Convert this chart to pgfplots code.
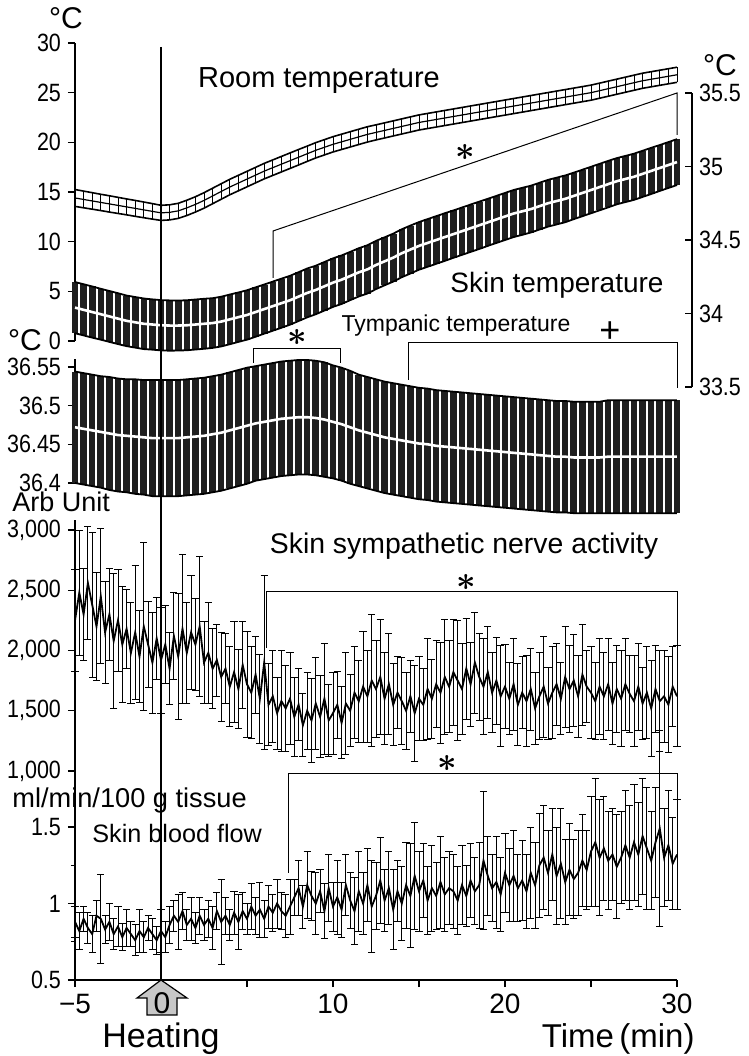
\documentclass[border=0pt]{standalone}
\usepackage{amsmath}
\usepackage{fontspec}
\setmainfont{Liberation Sans}
\newfontfamily\tickfont{Liberation Sans}[FakeStretch=0.86]
\usepackage{graphicx}
\usepackage{pgfplots}
\usepackage{pgfplotstable}
\pgfplotsset{compat=1.18}

% Room temperature (left axis), mean and SE, every 30 s
\pgfplotstableread{
t m e
-5 14.40 0.85
-4.5 14.25 0.84
-4 14.10 0.83
-3.5 13.95 0.82
-3 13.80 0.82
-2.5 13.65 0.81
-2 13.50 0.80
-1.5 13.35 0.80
-1 13.20 0.79
-0.5 13.05 0.78
0 12.90 0.76
0.5 12.95 0.76
1 13.10 0.76
1.5 13.40 0.77
2 13.75 0.77
2.5 14.15 0.78
3 14.60 0.78
3.5 15.05 0.78
4 15.50 0.78
4.5 15.90 0.78
5 16.30 0.78
5.5 16.70 0.78
6 17.10 0.78
6.5 17.45 0.78
7 17.80 0.78
7.5 18.15 0.78
8 18.50 0.78
8.5 18.85 0.77
9 19.20 0.77
9.5 19.50 0.77
10 19.80 0.77
10.5 20.05 0.77
11 20.30 0.77
11.5 20.55 0.77
12 20.80 0.77
12.5 21.00 0.76
13 21.20 0.76
13.5 21.40 0.76
14 21.60 0.76
14.5 21.80 0.76
15 22.00 0.76
15.5 22.15 0.76
16 22.30 0.76
16.5 22.45 0.76
17 22.60 0.76
17.5 22.75 0.76
18 22.90 0.76
18.5 23.05 0.76
19 23.20 0.76
19.5 23.35 0.76
20 23.50 0.76
20.5 23.65 0.76
21 23.80 0.76
21.5 23.95 0.76
22 24.10 0.76
22.5 24.25 0.76
23 24.40 0.76
23.5 24.55 0.76
24 24.70 0.76
24.5 24.85 0.76
25 25.00 0.76
25.5 25.20 0.76
26 25.40 0.76
26.5 25.60 0.76
27 25.80 0.76
27.5 26.00 0.76
28 26.20 0.76
28.5 26.35 0.76
29 26.50 0.76
29.5 26.65 0.76
30 26.80 0.76
}\roomtab

% Skin temperature (right axis)
\pgfplotstableread{
t m e
-5 34.040 0.174
-4.5 34.025 0.174
-4 34.010 0.174
-3.5 33.995 0.173
-3 33.980 0.173
-2.5 33.965 0.173
-2 33.950 0.172
-1.5 33.940 0.172
-1 33.930 0.172
-0.5 33.925 0.171
0 33.920 0.171
0.5 33.918 0.171
1 33.918 0.170
1.5 33.920 0.170
2 33.925 0.170
2.5 33.930 0.170
3 33.935 0.169
3.5 33.945 0.169
4 33.960 0.169
4.5 33.975 0.168
5 33.990 0.168
5.5 34.010 0.168
6 34.030 0.167
6.5 34.050 0.167
7 34.070 0.167
7.5 34.090 0.166
8 34.115 0.166
8.5 34.140 0.166
9 34.160 0.165
9.5 34.185 0.165
10 34.210 0.165
10.5 34.230 0.165
11 34.255 0.164
11.5 34.280 0.164
12 34.300 0.164
12.5 34.330 0.164
13 34.355 0.163
13.5 34.380 0.163
14 34.410 0.163
14.5 34.435 0.163
15 34.460 0.162
15.5 34.480 0.162
16 34.500 0.162
16.5 34.520 0.162
17 34.540 0.161
17.5 34.560 0.161
18 34.580 0.161
18.5 34.600 0.161
19 34.620 0.160
19.5 34.640 0.160
20 34.660 0.160
20.5 34.680 0.160
21 34.695 0.160
21.5 34.710 0.159
22 34.730 0.159
22.5 34.750 0.159
23 34.765 0.159
23.5 34.780 0.159
24 34.800 0.158
24.5 34.820 0.158
25 34.840 0.158
25.5 34.860 0.158
26 34.880 0.158
26.5 34.900 0.157
27 34.915 0.157
27.5 34.930 0.157
28 34.950 0.157
28.5 34.970 0.157
29 34.990 0.156
29.5 35.010 0.156
30 35.030 0.156
}\skintab

% Tympanic temperature
\pgfplotstableread{
t m e
-5 36.472 0.072
-4.5 36.470 0.072
-4 36.468 0.072
-3.5 36.466 0.072
-3 36.464 0.073
-2.5 36.462 0.073
-2 36.461 0.073
-1.5 36.460 0.074
-1 36.459 0.074
-0.5 36.458 0.075
0 36.458 0.075
0.5 36.458 0.075
1 36.458 0.075
1.5 36.459 0.075
2 36.460 0.075
2.5 36.461 0.075
3 36.463 0.075
3.5 36.465 0.075
4 36.468 0.075
4.5 36.471 0.075
5 36.474 0.075
5.5 36.477 0.074
6 36.479 0.074
6.5 36.481 0.074
7 36.483 0.074
7.5 36.484 0.074
8 36.485 0.074
8.5 36.485 0.074
9 36.484 0.074
9.5 36.482 0.074
10 36.479 0.073
10.5 36.476 0.073
11 36.472 0.073
11.5 36.468 0.072
12 36.465 0.072
12.5 36.462 0.072
13 36.459 0.072
13.5 36.457 0.072
14 36.455 0.072
14.5 36.453 0.072
15 36.451 0.072
15.5 36.450 0.072
16 36.448 0.072
16.5 36.447 0.072
17 36.446 0.072
17.5 36.445 0.072
18 36.444 0.072
18.5 36.443 0.072
19 36.442 0.072
19.5 36.441 0.072
20 36.440 0.072
20.5 36.439 0.072
21 36.438 0.072
21.5 36.437 0.072
22 36.436 0.072
22.5 36.435 0.072
23 36.434 0.072
23.5 36.434 0.072
24 36.433 0.072
24.5 36.433 0.072
25 36.433 0.072
25.5 36.433 0.072
26 36.434 0.073
26.5 36.434 0.073
27 36.434 0.073
27.5 36.434 0.073
28 36.434 0.073
28.5 36.434 0.073
29 36.434 0.073
29.5 36.434 0.073
30 36.434 0.073
}\tymtab

% Skin sympathetic nerve activity, every 15 s
\pgfplotstableread{
t m e
-5.00 2250 420
-4.75 2480 520
-4.50 2300 380
-4.25 2560 470
-4.00 2380 600
-3.75 2200 450
-3.50 2450 560
-3.25 2150 420
-3.00 2300 380
-2.75 2080 560
-2.50 2250 420
-2.25 2050 480
-2.00 2180 330
-1.75 1980 420
-1.50 2150 560
-1.25 1950 380
-1.00 2200 700
-0.75 2050 360
-0.50 1900 420
-0.25 2100 340
0.00 1920 440
0.25 2050 320
0.50 1850 300
0.75 2120 360
1.00 1950 520
1.25 2180 620
1.50 1980 420
1.75 2150 470
2.00 2050 380
2.25 2200 580
2.50 1900 340
2.75 1980 420
3.00 1850 330
3.25 1920 300
3.50 1780 370
3.75 1850 290
4.00 1700 330
4.25 1820 420
4.50 1680 330
4.75 1880 360
5.00 1720 440
5.25 1650 380
5.50 1800 320
5.75 1600 370
6.00 1900 720
6.25 1550 340
6.50 1620 380
6.75 1480 300
7.00 1580 420
7.25 1520 360
7.50 1600 380
7.75 1450 330
8.00 1550 300
8.25 1380 260
8.50 1500 320
8.75 1420 350
9.00 1560 380
9.25 1450 340
9.50 1600 460
9.75 1420 300
10.00 1480 340
10.25 1550 280
10.50 1400 300
10.75 1560 420
11.00 1500 300
11.25 1650 380
11.50 1580 340
11.75 1700 460
12.00 1620 380
12.25 1750 550
12.50 1680 400
12.75 1780 480
13.00 1600 380
13.25 1720 420
13.50 1550 340
13.75 1650 300
14.00 1580 360
14.25 1500 320
14.50 1620 300
14.75 1480 400
15.00 1600 350
15.25 1550 300
15.50 1680 420
15.75 1600 330
16.00 1720 360
16.25 1650 420
16.50 1780 480
16.75 1700 380
17.00 1820 440
17.25 1750 500
17.50 1680 380
17.75 1850 420
18.00 1720 350
18.25 1900 420
18.50 1780 360
18.75 1700 400
19.00 1820 380
19.25 1650 330
19.50 1750 360
19.75 1620 420
20.00 1700 350
20.25 1600 300
20.50 1720 380
20.75 1550 340
21.00 1650 300
21.25 1580 380
21.50 1680 340
21.75 1520 300
22.00 1620 360
22.25 1700 420
22.50 1560 300
22.75 1650 380
23.00 1720 340
23.25 1600 300
23.50 1780 420
23.75 1680 360
24.00 1750 380
24.25 1620 340
24.50 1800 420
24.75 1700 300
25.00 1650 380
25.25 1580 320
25.50 1700 400
25.75 1620 360
26.00 1720 380
26.25 1560 340
26.50 1680 360
26.75 1600 400
27.00 1720 380
27.25 1640 320
27.50 1580 380
27.75 1700 360
28.00 1560 300
28.25 1650 380
28.50 1520 400
28.75 1680 360
29.00 1580 420
29.25 1620 380
29.50 1550 400
29.75 1700 330
30.00 1620 420
}\ssnatab

% Skin blood flow, every 15 s
\pgfplotstableread{
t m e
-5.00 0.88 0.10
-4.75 0.82 0.12
-4.50 0.90 0.08
-4.25 0.84 0.10
-4.00 0.80 0.12
-3.75 0.92 0.10
-3.50 0.90 0.29
-3.25 0.83 0.09
-3.00 0.88 0.12
-2.75 0.80 0.10
-2.50 0.85 0.13
-2.25 0.78 0.09
-2.00 0.84 0.12
-1.75 0.80 0.08
-1.50 0.76 0.10
-1.25 0.82 0.14
-1.00 0.78 0.10
-0.75 0.84 0.08
-0.50 0.80 0.10
-0.25 0.76 0.09
0.00 0.82 0.14
0.25 0.78 0.10
0.50 0.86 0.12
0.75 0.92 0.10
1.00 0.88 0.18
1.25 0.95 0.12
1.50 0.86 0.10
1.75 0.90 0.14
2.00 0.84 0.10
2.25 0.92 0.12
2.50 0.86 0.10
2.75 0.90 0.12
3.00 0.84 0.14
3.25 0.95 0.12
3.50 0.88 0.28
3.75 0.92 0.12
4.00 0.86 0.10
4.25 0.94 0.14
4.50 0.88 0.18
4.75 0.95 0.12
5.00 0.90 0.10
5.25 0.98 0.15
5.50 0.92 0.12
5.75 0.96 0.18
6.00 0.90 0.12
6.25 0.98 0.14
6.50 0.94 0.12
6.75 1.00 0.16
7.00 0.95 0.12
7.25 0.92 0.14
7.50 0.98 0.18
7.75 1.04 0.12
8.00 1.10 0.18
8.25 0.98 0.14
8.50 1.12 0.22
8.75 1.05 0.16
9.00 1.00 0.20
9.25 1.08 0.14
9.50 0.95 0.18
9.75 1.10 0.22
10.00 0.98 0.16
10.25 1.04 0.24
10.50 0.96 0.18
10.75 1.12 0.20
11.00 1.02 0.18
11.25 0.95 0.22
11.50 1.08 0.26
11.75 1.00 0.20
12.00 1.12 0.24
12.25 0.98 0.30
12.50 1.05 0.22
12.75 1.15 0.28
13.00 1.02 0.20
13.25 1.10 0.24
13.50 0.96 0.26
13.75 1.08 0.20
14.00 1.00 0.24
14.25 1.12 0.28
14.50 1.05 0.34
14.75 1.18 0.35
15.00 1.08 0.26
15.25 1.15 0.24
15.50 1.02 0.22
15.75 1.10 0.28
16.00 1.05 0.22
16.25 1.14 0.30
16.50 1.06 0.24
16.75 1.10 0.24
17.00 1.08 0.24
17.25 1.02 0.22
17.50 1.12 0.26
17.75 1.05 0.20
18.00 1.15 0.24
18.25 1.08 0.22
18.50 1.12 0.28
18.75 1.28 0.45
19.00 1.18 0.26
19.25 1.10 0.22
19.50 1.14 0.30
19.75 1.06 0.24
20.00 1.20 0.26
20.25 1.12 0.24
20.50 1.18 0.30
20.75 1.10 0.22
21.00 1.15 0.26
21.25 1.08 0.24
21.50 1.20 0.30
21.75 1.12 0.28
22.00 1.25 0.34
22.25 1.30 0.34
22.50 1.20 0.28
22.75 1.32 0.30
23.00 1.18 0.32
23.25 1.26 0.36
23.50 1.14 0.28
23.75 1.22 0.30
24.00 1.16 0.26
24.25 1.20 0.28
24.50 1.28 0.30
24.75 1.22 0.26
25.00 1.34 0.36
25.25 1.40 0.42
25.50 1.30 0.38
25.75 1.36 0.34
26.00 1.28 0.32
26.25 1.32 0.30
26.50 1.24 0.34
26.75 1.30 0.30
27.00 1.38 0.36
27.25 1.30 0.34
27.50 1.40 0.38
27.75 1.32 0.34
28.00 1.44 0.38
28.25 1.36 0.40
28.50 1.28 0.32
28.75 1.40 0.36
29.00 1.49 0.64
29.25 1.30 0.32
29.50 1.38 0.36
29.75 1.26 0.30
30.00 1.32 0.36
}\sbftab

\newcommand{\bigast}{\scalebox{1.7}{$\boldsymbol{\ast}$}}

\pgfplotsset{
  panel/.style={
    scale only axis, width=301pt, xmin=-5, xmax=30, clip=false,
    axis y line*=left, tick align=outside,
    major tick length=3.5pt, minor tick length=2pt,
    axis line style={line width=0.6pt, black},
    every tick/.style={line width=0.6pt, black},
    tick label style={font=\tickfont\fontsize{12.5}{12.5}\selectfont},
    /pgf/number format/assume math mode=true,
  },
  thickband/.style={draw=none, error bars/.cd, y dir=both, y explicit,
    error bar style={draw=black!88, line width=3.3pt}, error mark=none},
  capbars/.style={draw=none, error bars/.cd, y dir=both, y explicit,
    error bar style={draw=black, line width=0.45pt}, error mark=-,
    error mark options={draw=black, line width=0.45pt, mark size=1.8pt, rotate=90}},
}

\begin{document}
\begin{tikzpicture}
\useasboundingbox (0,0) rectangle (374.5pt,528pt);

% Room temperature
\begin{axis}[panel, axis x line=none, at={(37.5pt,357.5pt)}, anchor=south west, height=149pt,
  ymin=0, ymax=30, ytick={0,5,...,30}, yticklabels={0,5,10,15,20,25,30}]
\addplot[draw=none, error bars/.cd, y dir=both, y explicit,
  error bar style={draw=black, line width=0.3pt}, error mark=none]
  table[x=t, y=m, y error=e] {\roomtab};
\addplot[black, line width=0.8pt] table[x=t, y expr=\thisrow{m}+\thisrow{e}] {\roomtab};
\addplot[black, line width=0.8pt] table[x=t, y expr=\thisrow{m}-\thisrow{e}] {\roomtab};
\addplot[black, line width=0.6pt] table[x=t, y=m] {\roomtab};
\end{axis}

% Skin temperature, right-hand scale
\begin{axis}[panel, axis x line=none, at={(37.5pt,334.5pt)}, anchor=south west, width=308.5pt, xmax=30.872,
  height=147pt, ymin=33.5, ymax=35.5, axis y line*=right, tick align=inside,
  ytick={33.5,34,34.5,35,35.5}, yticklabels={33.5,34,34.5,35,35.5}]
\addplot[thickband] table[x=t, y=m, y error=e] {\skintab};
\addplot[black, line width=0.9pt] table[x=t, y expr=\thisrow{m}+\thisrow{e}] {\skintab};
\addplot[black, line width=0.9pt] table[x=t, y expr=\thisrow{m}-\thisrow{e}] {\skintab};
\addplot[white, line width=1.3pt] table[x=t, y=m] {\skintab};
\end{axis}

% Tympanic temperature
\begin{axis}[panel, axis x line=none, at={(37.5pt,286.5pt)}, anchor=south west, height=61.9pt,
  ymin=36.4, ymax=36.56, ytick={36.4,36.45,36.5,36.55},
  yticklabels={36.4,36.45,36.5,36.55}]
\addplot[thickband] table[x=t, y=m, y error=e] {\tymtab};
\addplot[black, line width=0.9pt] table[x=t, y expr=\thisrow{m}+\thisrow{e}] {\tymtab};
\addplot[black, line width=0.9pt] table[x=t, y expr=\thisrow{m}-\thisrow{e}] {\tymtab};
\addplot[white, line width=1.3pt] table[x=t, y=m] {\tymtab};
\end{axis}

% Skin sympathetic nerve activity
\begin{axis}[panel, axis x line=none, at={(37.5pt,142.5pt)}, anchor=south west, height=125.3pt,
  ymin=1000, ymax=3080, ytick={1000,1500,2000,2500,3000},
  yticklabels={{1,000},{1,500},{2,000},{2,500},{3,000}}]
\addplot[capbars] table[x=t, y=m, y error=e] {\ssnatab};
\addplot[black, line width=0.9pt] table[x=t, y=m] {\ssnatab};
\end{axis}

% Skin blood flow, with the time axis
\begin{axis}[panel, at={(37.5pt,38pt)}, anchor=south west, height=104.5pt,
  ymin=0.5, ymax=1.866, ytick={0.5,1,1.5}, yticklabels={0.5,1,1.5},
  minor ytick={0.75,1.25}, axis x line*=bottom,
  xtick={-5,0,5,10,15,20,25,30}, xticklabels={−5,,,10,,20,,30},
  xticklabel style={font=\fontsize{14}{14}\selectfont}]
\addplot[capbars] table[x=t, y=m, y error=e] {\sbftab};
\addplot[black, line width=0.9pt] table[x=t, y=m] {\sbftab};
\end{axis}

% Labels, brackets and the heating marker
\begin{scope}[x=0.5pt, y=-0.5pt, shift={(0pt,528pt)}]
\draw[line width=0.6pt] (161,47) -- (161,980);
\node[font=\fontsize{15}{15}\selectfont, inner sep=0pt] at (66,18) {°C};
\node[font=\fontsize{14.5}{15}\selectfont, anchor=base, inner sep=0pt] at (319,88) {Room temperature};
\node[font=\fontsize{15}{15}\selectfont, inner sep=0pt] at (720,65) {°C};
\draw[line width=0.5pt] (273,278) -- (273,231) -- (677,93) -- (677,135);
\node[inner sep=0pt] at (465,152) {\bigast};
\node[font=\fontsize{14}{14}\selectfont, anchor=base, inner sep=0pt] at (557,293) {Skin temperature};
\node[font=\fontsize{11.5}{12}\selectfont, anchor=base, inner sep=0pt] at (456,332) {Tympanic temperature};
\draw[line width=0.5pt] (253,363) -- (253,349) -- (340,349) -- (340,363);
\node[inner sep=0pt] at (297,337) {\bigast};
\draw[line width=0.5pt] (408,380) -- (408,343) -- (677,343) -- (677,388);
\node[font=\fontsize{18}{18}\selectfont, inner sep=0pt] at (610,332) {+};
\node[font=\fontsize{15}{15}\selectfont, inner sep=0pt] at (25,340) {°C};
\node[font=\fontsize{13.5}{14}\selectfont, anchor=base west, inner sep=0pt] at (12,512) {Arb Unit};
\node[font=\fontsize{14.2}{15}\selectfont, anchor=base, inner sep=0pt] at (464,554) {Skin sympathetic nerve activity};
\draw[line width=0.5pt] (266,648) -- (266,592) -- (677,592) -- (677,647);
\node[inner sep=0pt] at (466,582) {\bigast};
\draw[line width=0.5pt] (288,873) -- (288,774) -- (677,774) -- (677,850);
\node[inner sep=0pt] at (447,763) {\bigast};
\node[font=\fontsize{13.6}{14}\selectfont, anchor=base west, inner sep=0pt] at (12,808) {ml/min/100 g tissue};
\node[font=\fontsize{12.6}{13}\selectfont, anchor=base west, inner sep=0pt] at (92,843) {Skin blood flow};
\draw[fill=black!22, line width=0.6pt] (161,980) -- (187,998) -- (177,998) -- (177,1015)
  -- (147,1015) -- (147,998) -- (137,998) -- cycle;
\node[font=\fontsize{15}{15}\selectfont] at (162,1003) {0};
\node[font=\fontsize{17}{17}\selectfont, anchor=base, inner sep=0pt] at (161,1047) {Heating};
\node[font=\fontsize{16.5}{17}\selectfont, anchor=base east, inner sep=0pt] at (695,1047) {Time\,(min)};
\end{scope}
\end{tikzpicture}
\end{document}
